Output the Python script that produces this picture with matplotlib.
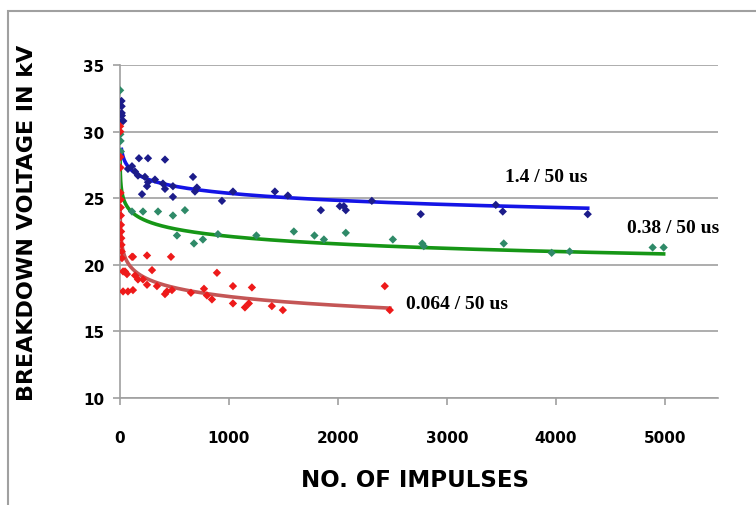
import numpy as np
import matplotlib.pyplot as plt
from matplotlib.patches import Rectangle

# --- Data ---

blue_x = [14, 15, 16, 17, 18, 30, 73, 110, 138, 165, 174, 202, 229, 248, 257, 257, 321, 394, 413, 413,
          486, 486, 670, 688, 706, 936, 1037, 1422, 1541, 1844, 2018, 2055, 2073, 2312, 2761,
          3450, 3514, 4294]
blue_y = [32.3, 31.9, 31.4, 31.2, 30.8, 30.8, 27.2, 27.4, 27.0, 26.7, 28.0, 25.3, 26.6, 25.9, 28.0,
          26.2, 26.4, 26.1, 27.9, 25.7, 25.9, 25.1, 26.6, 25.5, 25.8, 24.8, 25.5, 25.5, 25.2, 24.1,
          24.4, 24.4, 24.1, 24.8, 23.8, 24.5, 24.0, 23.8]

green_x = [1, 3, 5, 8, 110, 211, 349, 486, 596, 523, 679, 761, 899, 1252, 1596, 1785, 1872, 2073,
           2505, 2775, 2789, 3523, 3963, 4128, 4890, 4991]
green_y = [33.1, 29.8, 29.3, 28.5, 24.0, 24.0, 24.0, 23.7, 24.1, 22.2, 21.6, 21.9, 22.3, 22.2, 22.5,
           22.2, 21.9, 22.4, 21.9, 21.6, 21.4, 21.6, 20.9, 21.0, 21.3, 21.3]

red_x = [1, 2, 3, 4, 5, 6, 7, 8, 9, 10, 12, 14, 16, 18, 28, 46, 64, 110, 119, 138, 165, 211, 248,
         248, 294, 339, 413, 431, 468, 477, 28, 73, 119, 651, 771, 798, 844, 890, 1037, 1037,
         1147, 1183, 1211, 1394, 1495, 2431, 2477]
red_y = [30.4, 30.0, 28.1, 27.3, 25.4, 24.9, 24.3, 23.7, 23.0, 22.5, 22.0, 21.5, 21.0, 20.5, 19.5,
         19.5, 19.3, 20.6, 20.6, 19.2, 18.9, 18.9, 20.7, 18.5, 19.6, 18.4, 17.8, 18.0, 20.6, 18.1,
         18.0, 18.0, 18.1, 17.9, 18.2, 17.7, 17.4, 19.4, 18.4, 17.1, 16.8, 17.1, 18.3, 16.9, 16.6,
         18.4, 16.6]

# logarithmic trendlines as shown on the chart: y = a - b * ln(x)
trend_a = [30.69, 27.80, 24.25]
trend_b = [0.77, 0.82, 0.96]

series_labels = ["1.4 / 50 us", "0.38 / 50 us", "0.064 / 50 us"]
label_pos = [(3530, 26.6), (4650, 22.8), (2630, 17.1)]

x_ticks = [0, 1000, 2000, 3000, 4000, 5000]
y_ticks = [10, 15, 20, 25, 30, 35]

# --- Plot ---

fig = plt.figure(figsize=(7.56, 5.06), dpi=100)
ax = fig.add_axes([120 / 756, 1 - 399 / 506, 598 / 756, 333 / 506])

series = [
    (blue_x, blue_y, "#1c1c8a", "#1414e6"),
    (green_x, green_y, "#2f8a68", "#169616"),
    (red_x, red_y, "#ee1a1a", "#c45656"),
]

for i, (xs, ys, mcol, lcol) in enumerate(series):
    xs = np.array(xs, dtype=float)
    ys = np.array(ys, dtype=float)
    xt = np.geomspace(xs.min(), xs.max(), 300)
    ax.plot(xt, trend_a[i] - trend_b[i] * np.log(xt), color=lcol, lw=2.6, zorder=2)
    ax.scatter(xs, ys, marker="D", s=18, color=mcol, edgecolors="none", zorder=3)
    ax.text(label_pos[i][0], label_pos[i][1], series_labels[i], fontsize=14,
            fontweight="bold", family="Liberation Serif", va="center", ha="left")

ax.set_xlim(0, 5490)
ax.set_ylim(10, 35)
ax.set_xticks(x_ticks)
ax.set_yticks(y_ticks)
ax.yaxis.grid(True, color="#a0a0a0", lw=1.2)
ax.set_axisbelow(True)
for s in ["top", "right"]:
    ax.spines[s].set_visible(False)
for s in ["left", "bottom"]:
    ax.spines[s].set_color("#a0a0a0")
    ax.spines[s].set_linewidth(1.2)
ax.tick_params(axis="both", colors="#a0a0a0", length=5, width=1.2, labelcolor="black",
               labelsize=11)
for t in ax.get_xticklabels() + ax.get_yticklabels():
    t.set_fontweight("bold")
ax.tick_params(axis="x", pad=18)
ax.tick_params(axis="y", pad=6)

ax.set_xlabel("NO. OF IMPULSES", fontsize=16.5, fontweight="heavy")
ax.set_ylabel("BREAKDOWN VOLTAGE IN kV", fontsize=16, fontweight="heavy")
ax.xaxis.set_label_coords(0.493, -0.21)
ax.yaxis.set_label_coords(-0.139, 0.53)

# grey outer frame of the original screenshot
fig.patches.append(Rectangle((8 / 756, -0.1), 1.2, 1.1 - 12 / 506, transform=fig.transFigure,
                             fill=False, edgecolor="#a0a0a0", lw=1.5))

fig.savefig("out.png", dpi=100)
